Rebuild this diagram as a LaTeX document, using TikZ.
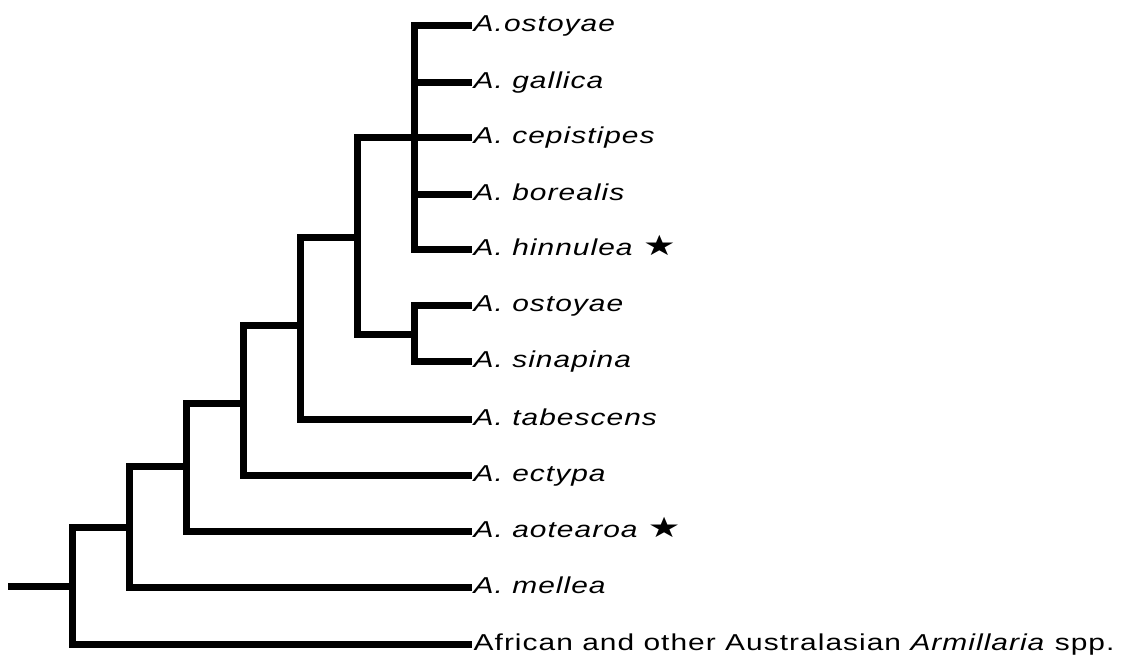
\documentclass[tikz,border=0pt]{standalone}
\usepackage{fontspec}
\setmainfont[FakeStretch=1.3,LetterSpace=4.5]{Liberation Sans}
\newfontfamily\symfont[FakeStretch=1.3]{DejaVu Sans}
\newcommand{\bigstar}{{\symfont\fontsize{28}{28}\selectfont ★}}
\begin{document}
\begin{tikzpicture}[x=1pt,y=-1pt,
  br/.style={line width=7pt, line join=miter, line cap=butt},
  leaf/.style={anchor=west, inner sep=0pt, text height=14pt, text depth=2pt,
    font=\fontsize{23}{23}\selectfont}]
\useasboundingbox (0,0) rectangle (1127,659);
% leaves
\node[leaf] (l0) at (472,25.5) {\kern1.5pt\textit{A.ostoyae}};
\node[leaf] (l1) at (472,82) {\kern1.5pt\textit{A. gallica}};
\node[leaf] (l2) at (472,137) {\kern1.5pt\textit{A. cepistipes}};
\node[leaf] (l3) at (472,194) {\kern1.5pt\textit{A. borealis}};
\node[leaf] (l4) at (472,249) {\kern1.5pt\textit{A. hinnulea} \bigstar};
\node[leaf] (l5) at (472,305.5) {\kern1.5pt\textit{A. ostoyae}};
\node[leaf] (l6) at (472,361) {\kern1.5pt\textit{A. sinapina}};
\node[leaf] (l7) at (472,419) {\kern1.5pt\textit{A. tabescens}};
\node[leaf] (l8) at (472,475) {\kern1.5pt\textit{A. ectypa}};
\node[leaf] (l9) at (472,531.5) {\kern1.5pt\textit{A. aotearoa} \bigstar};
\node[leaf] (l10) at (472,587) {\kern1.5pt\textit{A. mellea}};
\node[leaf] (l11) at (472,644) {\kern1.5pt African and other Australasian \textit{Armillaria} spp.};
% internal nodes
\coordinate (n8) at (414.5,137);
\coordinate (n7) at (414,334.5);
\coordinate (n6) at (357,237);
\coordinate (n5) at (300.5,325);
\coordinate (n4) at (243,403);
\coordinate (n3) at (186,466.5);
\coordinate (n2) at (129.5,527);
\coordinate (n1) at (72.5,586);
\coordinate (root) at (8,586);
% branches
\draw[br] (l0.west) -| (n8) |- (l4.west);
\draw[br] (n8 |- l1.west) -- (l1.west);
\draw[br] (n8) -- (l2.west);
\draw[br] (n8 |- l3.west) -- (l3.west);
\draw[br] (l5.west) -| (n7) |- (l6.west);
\draw[br] (n8) -| (n6) |- (n7);
\draw[br] (n6) -| (n5) |- (l7.west);
\draw[br] (n5) -| (n4) |- (l8.west);
\draw[br] (n4) -| (n3) |- (l9.west);
\draw[br] (n3) -| (n2) |- (l10.west);
\draw[br] (n2) -| (n1) |- (l11.west);
\draw[br] (root) -- (n1);
\end{tikzpicture}
\end{document}
